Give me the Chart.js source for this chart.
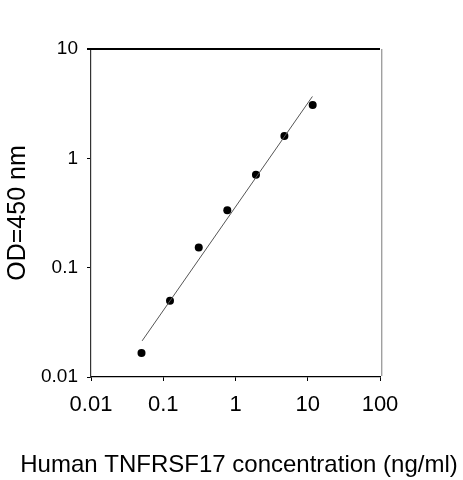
<!DOCTYPE html>
<html>
<head>
<meta charset="utf-8">
<script src="https://cdn.jsdelivr.net/npm/chart.js@4"></script>
<style>
html,body{margin:0;padding:0;background:#fff;}
canvas{display:block;}
</style>
</head>
<body>
<canvas id="c" width="463" height="480"></canvas>
<script>
// Data
const concentration = [0.05, 0.124, 0.31, 0.77, 1.92, 4.75, 11.7];   // ng/ml
const od450 = [0.0166, 0.0498, 0.153, 0.335, 0.706, 1.6, 3.07];
const fitX = [0.051, 11.6];
const fitY = [0.0214, 3.68];
const xTicks = [0.01, 0.1, 1, 10, 100];
const xTickLabels = ['0.01', '0.1', '1', '10', '100'];
const yTicks = [0.01, 0.1, 1, 10];
const yTickLabels = ['0.01', '0.1', '1', '10'];
const xTitle = 'Human TNFRSF17 concentration (ng/ml)';
const yTitle = 'OD=450 nm';

const FONT = "'Liberation Sans', Arial, sans-serif";

const framePlugin = {
  id: 'frame',
  afterDraw(chart) {
    const {ctx, chartArea: a} = chart;
    ctx.save();
    ctx.strokeStyle = '#000';
    ctx.lineWidth = 1.8;
    ctx.beginPath();
    ctx.moveTo(a.left - 4, a.top);
    ctx.lineTo(a.right, a.top);
    ctx.stroke();
    ctx.strokeStyle = '#a0a0a0';
    ctx.lineWidth = 1.4;
    ctx.beginPath();
    ctx.moveTo(a.right + 1.7, a.top);
    ctx.lineTo(a.right + 1.7, a.bottom - 1);
    ctx.stroke();
    // x-axis title (wider than the plot area, so drawn here without width limit)
    ctx.fillStyle = '#000';
    ctx.font = '24px ' + FONT;
    ctx.textAlign = 'center';
    ctx.textBaseline = 'middle';
    ctx.fillText(xTitle, (a.left + a.right) / 2 + 3.5, chart.height - 15);
    ctx.restore();
  }
};

new Chart(document.getElementById('c'), {
  type: 'scatter',
  data: {
    datasets: [
      {
        label: 'fit',
        data: fitX.map((x, i) => ({x: x, y: fitY[i]})),
        showLine: true,
        borderColor: '#555',
        borderWidth: 1,
        pointRadius: 0,
        fill: false
      },
      {
        label: 'standards',
        data: concentration.map((x, i) => ({x: x, y: od450[i]})),
        showLine: false,
        pointRadius: 4,
        pointBackgroundColor: '#000',
        pointBorderWidth: 0,
        borderColor: '#000'
      }
    ]
  },
  options: {
    responsive: false,
    animation: false,
    devicePixelRatio: 1,
    layout: {padding: {left: 0, right: 83, top: 49, bottom: 0}},
    plugins: {legend: {display: false}, tooltip: {enabled: false}},
    scales: {
      x: {
        type: 'logarithmic',
        min: 0.01,
        max: 100,
        afterBuildTicks(s) { s.ticks = xTicks.map(v => ({value: v})); },
        afterFit(s) { s.height = 103; },
        ticks: {
          callback: (v, i) => xTickLabels[i],
          color: '#000',
          font: {family: FONT, size: 22},
          padding: 11,
          maxRotation: 0,
          autoSkip: false
        },
        grid: {display: true, drawOnChartArea: false, drawTicks: true, tickLength: 4, color: '#000', lineWidth: 1},
        border: {display: true, color: '#000', width: 1.3},
        title: {display: false}
      },
      y: {
        type: 'logarithmic',
        min: 0.01,
        max: 10,
        afterBuildTicks(s) { s.ticks = yTicks.map(v => ({value: v})); },
        afterFit(s) { s.width = 91; },
        ticks: {
          callback: (v, i) => yTickLabels[i],
          color: '#000',
          font: {family: FONT, size: 19},
          padding: 9,
          autoSkip: false
        },
        grid: {display: true, drawOnChartArea: false, drawTicks: true, tickLength: 4, color: '#000', lineWidth: 1},
        border: {display: true, color: '#333', width: 1.2},
        title: {
          display: true,
          text: yTitle,
          color: '#000',
          font: {family: FONT, size: 25},
          padding: {top: 3, bottom: 0}
        }
      }
    }
  },
  plugins: [framePlugin]
});
</script>
</body>
</html>
